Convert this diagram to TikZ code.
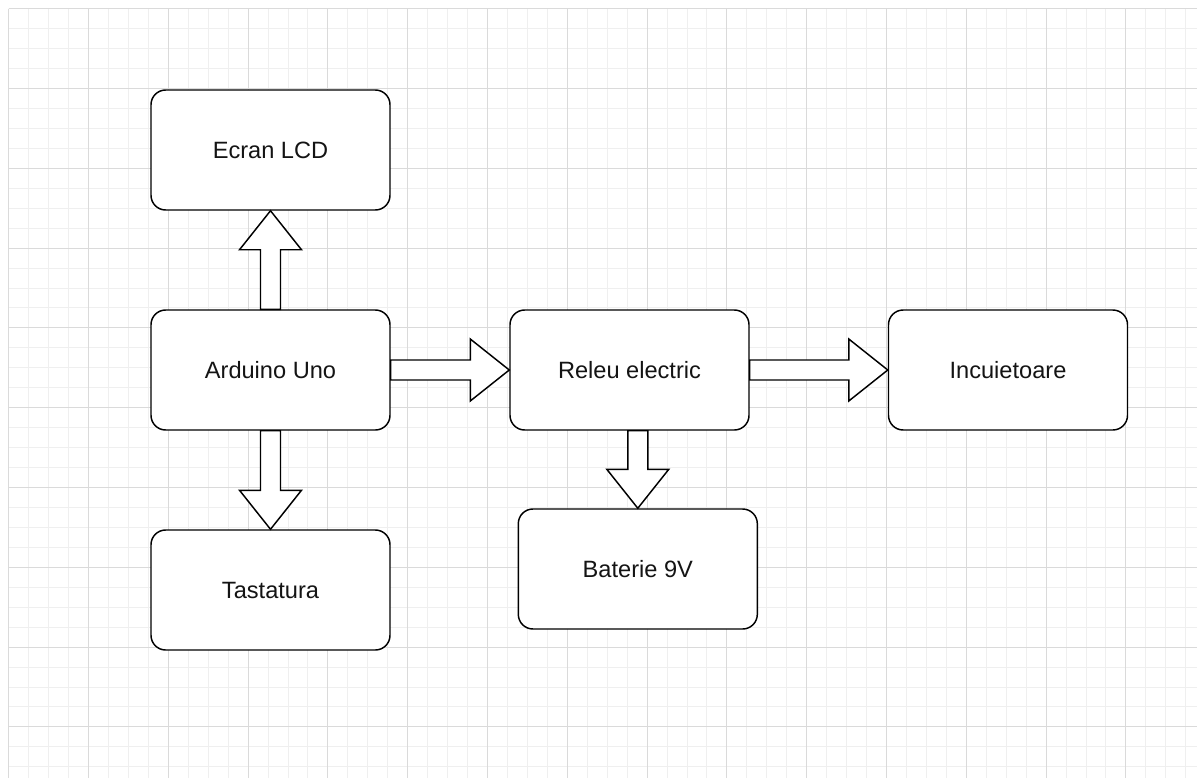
\documentclass[tikz,border=0pt]{standalone}
\usepackage{fontspec}
\setmainfont{Liberation Sans}
\usetikzlibrary{calc}
\definecolor{gminor}{RGB}{239,239,239}
\definecolor{gmajor}{RGB}{218,218,218}
\definecolor{txt}{RGB}{20,20,20}
\tikzset{
  box/.style={draw=black, line width=1.1pt, rounded corners=11pt, fill=white,
    minimum width=179.25pt, minimum height=90pt, inner sep=0pt,
    font=\fontsize{17.7}{20}\selectfont, text=txt},
  barrow/.style={draw=black, line width=1.1pt, fill=white, line join=miter},
  gridminor/.style={draw=gminor, line width=0.75pt},
  gridmajor/.style={draw=gmajor, line width=0.75pt},
}
\newcommand\blockarrow[2]{%
  \coordinate (ba-s) at (#1);
  \coordinate (ba-e) at (#2);
  \coordinate (ba-h) at ($(ba-e)!29.25pt!(ba-s)$);
  \draw[barrow] ($(ba-s)!7.5pt!90:(ba-e)$) -- ($(ba-h)!7.5pt!90:(ba-e)$)
    -- ($(ba-h)!23.25pt!90:(ba-e)$) -- (ba-e)
    -- ($(ba-h)!23.25pt!-90:(ba-e)$) -- ($(ba-h)!7.5pt!-90:(ba-e)$)
    -- ($(ba-s)!7.5pt!-90:(ba-e)$) -- cycle;
}
\begin{document}
\begin{tikzpicture}[x=0.75pt, y=-0.75pt]
  \useasboundingbox (0,0) rectangle (1197,778);
  \fill[white] (0,0) rectangle (1197,778);
  % grid
  \foreach \i in {0,...,59} {
    \pgfmathsetmacro\xx{8.7+19.95*\i}
    \draw[gridminor] (\xx,8.7) -- (\xx,778);
  }
  \foreach \i in {0,...,38} {
    \pgfmathsetmacro\yy{8.7+19.95*\i}
    \draw[gridminor] (8.7,\yy) -- (1197,\yy);
  }
  \foreach \i in {0,...,14} {
    \pgfmathsetmacro\xx{8.7+79.8*\i}
    \draw[gridmajor] (\xx,8.7) -- (\xx,778);
  }
  \foreach \i in {0,...,9} {
    \pgfmathsetmacro\yy{8.7+79.8*\i}
    \draw[gridmajor] (8.7,\yy) -- (1197,\yy);
  }
  % boxes
  \node[box] (lcd)  at (270.5,150) {Ecran LCD};
  \node[box] (ard)  at (270.5,370) {Arduino Uno};
  \node[box] (tast) at (270.5,590) {Tastatura};
  \node[box] (rel)  at (629.5,370) {Releu electric};
  \node[box] (inc)  at (1008,370)  {Incuietoare};
  \node[box] (bat)  at (637.8,569) {Baterie 9V};
  % block arrows
  \blockarrow{ard.north}{lcd.south}
  \blockarrow{ard.south}{tast.north}
  \blockarrow{ard.east}{rel.west}
  \blockarrow{rel.east}{inc.west}
  \blockarrow{bat.north |- rel.south}{bat.north}
\end{tikzpicture}
\end{document}
